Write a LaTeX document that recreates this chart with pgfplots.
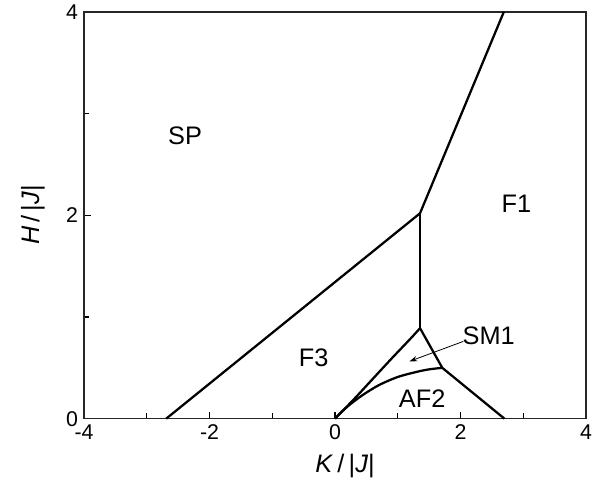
\documentclass[border=0pt]{standalone}
\usepackage{pgfplots}
\pgfplotsset{compat=1.18}
\usepackage{fontspec}
\setmainfont{Liberation Sans}
\usetikzlibrary{arrows.meta}
\newcommand\tickfont{\fontsize{16}{19}\selectfont}
\newcommand\labfont{\fontsize{19}{22}\selectfont}

\begin{document}
\begin{tikzpicture}
\begin{axis}[
  at={(0,0)}, anchor=south west,
  scale only axis,
  width=376.5pt, height=305pt,
  xmin=-4, xmax=4, ymin=0, ymax=4,
  xtick={-4,-2,0,2,4}, ytick={0,2,4},
  xticklabels={-4,-2,0,2,4},
  yticklabels={0,2,4},
  minor xtick={-3,-1,1,3}, minor ytick={1,3},
  xtick pos=left, ytick pos=left,
  tick align=inside,
  major tick length=5.25pt, minor tick length=4pt,
  every tick/.style={black, line width=0.8pt},
  axis line style={line width=0.9pt, black!85},
  every x tick label/.append style={font=\tickfont, yshift=-1pt},
  every y tick label/.append style={font=\tickfont, xshift=-1pt},
  clip=false,
]
% phase boundaries
\addplot[black, line width=1.7pt] coordinates {(-2.69,0) (1.355,2.02)};
\addplot[black, line width=1.7pt] coordinates {(1.355,2.02) (2.69,4)};
\addplot[black, line width=1.7pt] coordinates {(1.355,2.02) (1.355,0.89)};
\addplot[black, line width=1.7pt] coordinates {(1.355,0.89) (1.71,0.50) (2.70,0)};
% F3 / SM1 boundary
\addplot[black, line width=1.7pt, smooth] coordinates {(0,0) (0.3,0.19) (0.6,0.39) (0.9,0.59) (1.2,0.785) (1.355,0.89)};
% SM1 / AF2 boundary
\addplot[black, line width=1.7pt, smooth] coordinates {(0,0) (0.12,0.075) (0.25,0.145) (0.45,0.236) (0.7,0.33) (1.0,0.41) (1.3,0.46) (1.5,0.485) (1.71,0.50)};
% labels
\node[font=\labfont] at (axis cs:-2.39,2.78) {SP};
\node[font=\labfont] at (axis cs:2.89,2.11) {F1};
\node[font=\labfont] at (axis cs:-0.34,0.60) {F3};
\node[font=\labfont] at (axis cs:2.45,0.816) {SM1};
\node[font=\labfont] at (axis cs:1.39,0.20) {AF2};
\draw[black, line width=0.6pt, -{Stealth[length=6pt, width=4pt]}] (axis cs:2.045,0.76) -- (axis cs:1.185,0.563);
% axis labels
\node[font=\labfont] at (axis description cs:0.52,-0.1155) {\textit{K}\,/\,|\textit{J}|};
\node[font=\labfont, rotate=90] at (axis description cs:-0.1016,0.501) {\textit{H}\,/\,|\textit{J}|};
\end{axis}
\pgfresetboundingbox
\path[use as bounding box] (-63pt,-57.75pt) rectangle (390pt,314pt);
\end{tikzpicture}
\end{document}
